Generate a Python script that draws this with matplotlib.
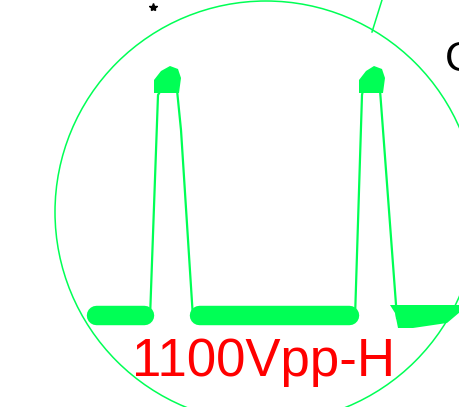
import numpy as np
import matplotlib.pyplot as plt
from matplotlib.patches import Circle, Polygon

# scope screen drawn in pixel coordinates (x right, y down)
circle_center = (266, 212)
circle_radius = 211

# trace: two pulses on a thick baseline (round caps add ~9 px each side)
base_segments = [(96, 144), (199, 349)]
base_y = 315
right_base = [(390, 305), (460, 305), (460, 312), (447, 323), (413, 328),
              (398, 328), (395, 313)]
pulse_left_x = [150, 158, 161]
pulse_left_y = [318, 95, 90]
pulse_right_x = [177, 181, 193]
pulse_right_y = [90, 130, 318]
pulse2_left_x = [355, 362, 363]
pulse2_right_x = [380, 383, 397]
peak_blobs = [
    [(154, 93), (154, 80), (161, 71), (170, 66), (178, 69), (181, 78), (179, 93)],
    [(359, 93), (359, 80), (366, 71), (374, 66), (382, 69), (385, 78), (383, 93)],
]

label = "1100Vpp-H"
green = "#00ff55"

fig = plt.figure(figsize=(4.6, 4.07), dpi=100)
ax = fig.add_axes([0, 0, 1, 1])
ax.set_xlim(0, 460)
ax.set_ylim(407, 0)
ax.axis("off")

ax.add_patch(Circle(circle_center, circle_radius, fill=False, ec=green, lw=1.1))

for x0, x1 in base_segments:
    ax.plot([x0, x1], [base_y, base_y], color=green, lw=14, solid_capstyle="round")
ax.add_patch(Polygon(right_base, closed=True, color=green, lw=0))

ax.plot(pulse_left_x, pulse_left_y, color=green, lw=1.6)
ax.plot(pulse_right_x, pulse_right_y, color=green, lw=1.6)
ax.plot(pulse2_left_x, pulse_left_y, color=green, lw=1.6)
ax.plot(pulse2_right_x, pulse_right_y, color=green, lw=1.6)
for blob in peak_blobs:
    ax.add_patch(Polygon(blob, closed=True, color=green, lw=0))

# line coming in from the top
ax.plot([382, 372], [0, 32], color=green, lw=1.1)

ax.plot([153], [7], marker="*", color="black", ms=6)
ax.text(445, 60, "C", fontsize=30, color="black", va="center", ha="left",
        family=["Liberation Sans", "DejaVu Sans"])

ax.text(264, 362, label, fontsize=38, color="red", ha="center", va="center",
        family=["Liberation Sans", "DejaVu Sans"])

fig.savefig("out.png", dpi=100)
